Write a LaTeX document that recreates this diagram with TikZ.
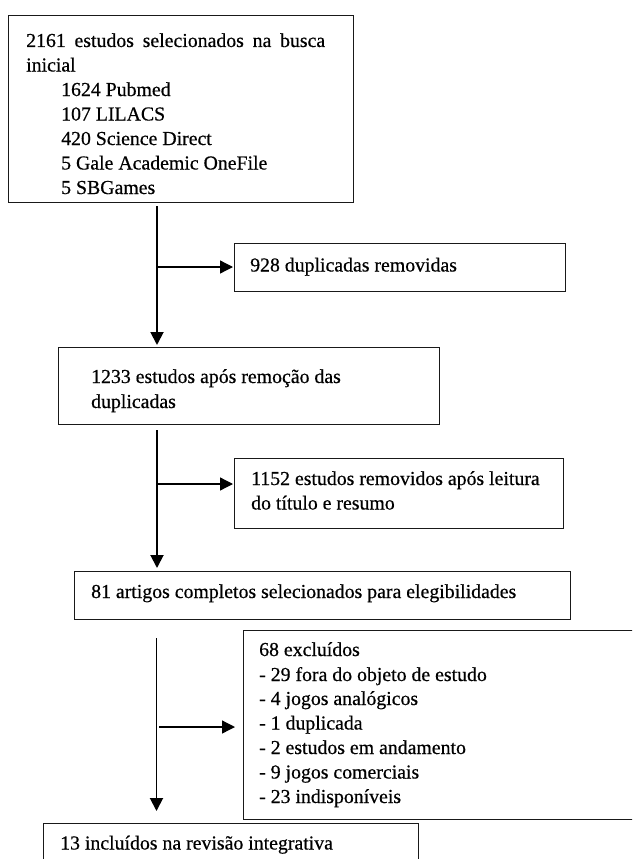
\documentclass[tikz,border=0pt]{standalone}
\usepackage{fontspec}
\setmainfont{Liberation Serif}[FakeBold=0.5]
\usetikzlibrary{arrows.meta}
\begin{document}
\begin{tikzpicture}[x=1pt,y=-1pt,
  box/.style={draw=black!90,line width=1.2pt,anchor=north west,inner sep=0pt,rectangle},
  txt/.style={anchor=base west,inner sep=0pt,font=\fontsize{19.8}{24.5}\selectfont},
  vline/.style={draw=black,line width=1.9pt,-{Triangle[length=13pt,width=13pt]}},
  hline/.style={draw=black,line width=1.3pt,-{Triangle[length=13pt,width=13pt]}}]
\useasboundingbox (0,0) rectangle (632,859);
\clip (0,0) rectangle (632,859);
% boxes
\node[box,minimum width=345pt,minimum height=187pt] (b1) at (8,15) {};
\node[box,minimum width=331pt,minimum height=48pt] (b928) at (234,243) {};
\node[box,minimum width=381pt,minimum height=77pt] (b2) at (58,347) {};
\node[box,minimum width=329pt,minimum height=70pt] (b1152) at (234,458) {};
\node[box,minimum width=496pt,minimum height=48pt] (b3) at (74,571) {};
\node[box,minimum width=420pt,minimum height=189pt] (b68) at (243,630) {};
\node[box,minimum width=375pt,minimum height=80pt] (b13) at (43,823) {};
% texts box 1
\node[txt] (t1a) at (26,47) {\makebox[299pt][s]{2161 estudos selecionados na busca}};
\node[txt] (t1b) at (26,71.5) {inicial};
\node[txt] (t1c) at (61,96) {1624 Pubmed};
\node[txt] (t1d) at (61,120.5) {107 LILACS};
\node[txt] (t1e) at (61,145) {420 Science Direct};
\node[txt] (t1f) at (61,169.5) {5 Gale Academic OneFile};
\node[txt] (t1g) at (61,194) {5 SBGames};
% other texts
\node[txt] (t928) at (250,271.5) {928 duplicadas removidas};
\node[txt] (t2a) at (91,383) {1233 estudos após remoção das};
\node[txt] (t2b) at (91,408) {duplicadas};
\node[txt] (t1152a) at (251,485) {1152 estudos removidos após leitura};
\node[txt] (t1152b) at (251,509.5) {do título e resumo};
\node[txt] (t3) at (91,598) {81 artigos completos selecionados para elegibilidades};
\node[txt] (t68a) at (259,656) {68 excluídos};
\node[txt] (t68b) at (259,681) {- 29 fora do objeto de estudo};
\node[txt] (t68c) at (259,705) {- 4 jogos analógicos};
\node[txt] (t68d) at (259,729.5) {- 1 duplicada};
\node[txt] (t68e) at (259,754) {- 2 estudos em andamento};
\node[txt] (t68f) at (259,778.5) {- 9 jogos comerciais};
\node[txt] (t68g) at (259,803) {- 23 indisponíveis};
\node[txt] (t13) at (60,849.5) {13 incluídos na revisão integrativa};
% connectors
\coordinate (v1) at (157,0);
\coordinate (v3) at (156.5,0);
\coordinate (j1) at (157,267);
\coordinate (j2) at (157,484);
\coordinate (j3) at (157,727);
\draw[vline,shorten <=3pt,shorten >=2pt] (v1 |- b1.south) -- (v1 |- b2.north);
\draw[hline,shorten >=1pt] (j1) -- (j1 -| b928.west);
\draw[vline,shorten <=5pt,shorten >=3pt] (v1 |- b2.south) -- (v1 |- b3.north);
\draw[hline,shorten >=1pt] (j2) -- (j2 -| b1152.west);
\draw[vline,shorten <=18pt,shorten >=12pt] (v3 |- b3.south) -- (v3 |- b13.north);
\draw[hline,shorten <=2pt,shorten >=8pt] (j3) -- (j3 -| b68.west);
\end{tikzpicture}
\end{document}
